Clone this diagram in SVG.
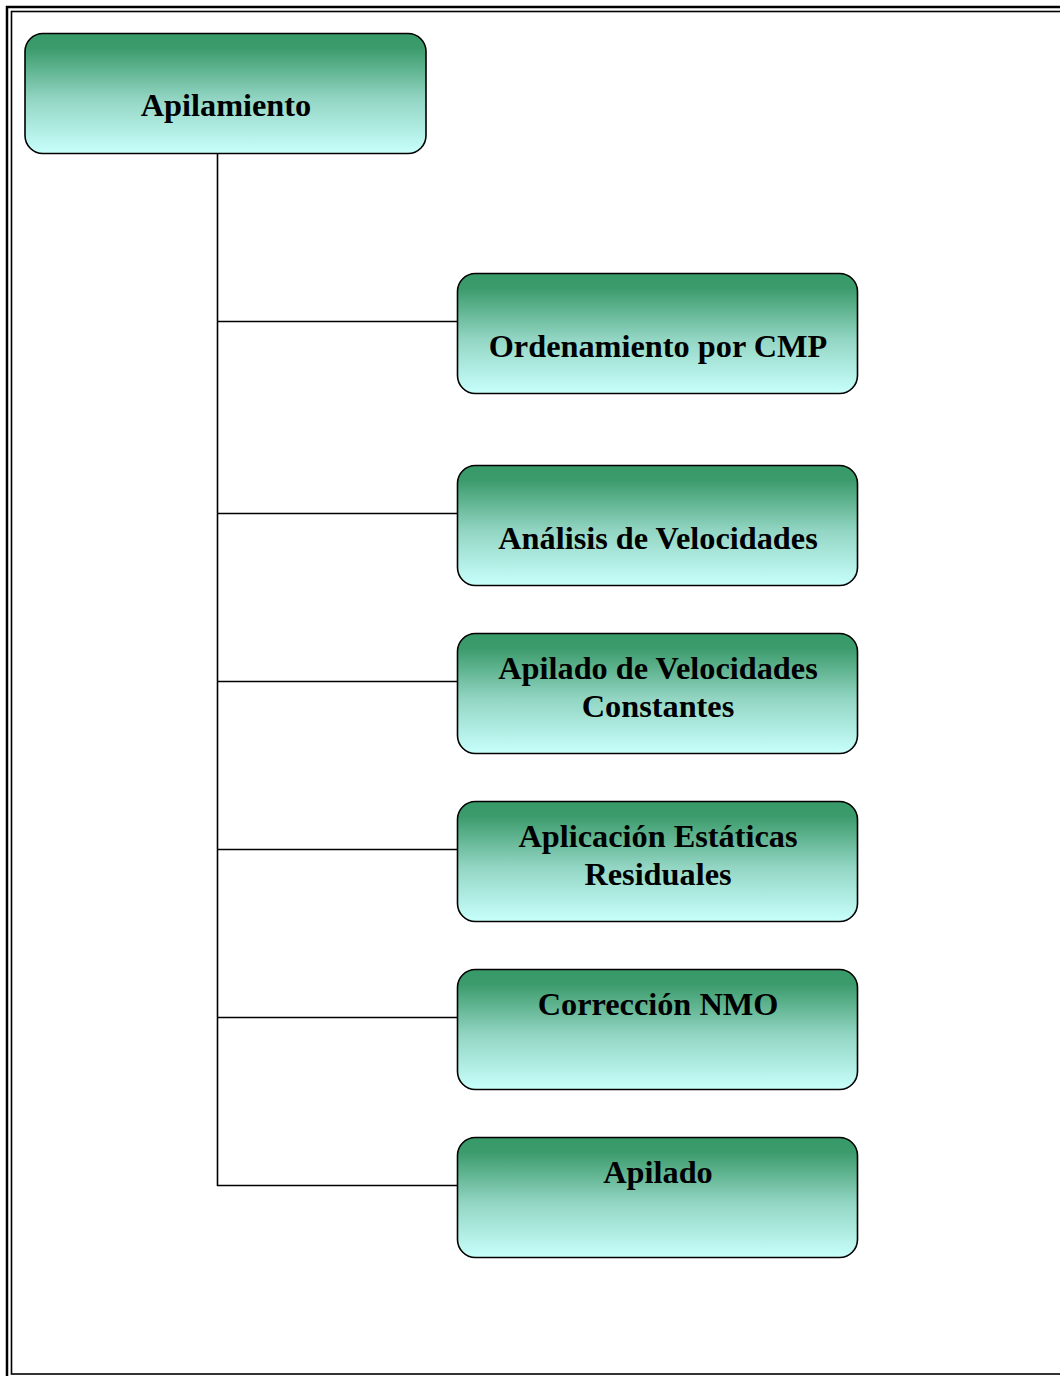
<svg xmlns="http://www.w3.org/2000/svg" width="1060" height="1376" viewBox="0 0 1060 1376">
<defs>
<linearGradient id="g" x1="0" y1="0" x2="0" y2="1">
<stop offset="0" stop-color="#389a68"/>
<stop offset="0.12" stop-color="#3b9b6b"/>
<stop offset="0.55" stop-color="#93d6c4"/>
<stop offset="1" stop-color="#c8fffc"/>
</linearGradient>
</defs>
<style>
.box{fill:url(#g);stroke:#000;stroke-width:1.6}
.t{font-family:"Liberation Serif","Times New Roman",serif;font-weight:bold;font-size:32.3px;text-anchor:middle;fill:#000}
.c{stroke:#000;stroke-width:1.6;fill:none}
</style>
<rect width="1060" height="1376" fill="#fff"/>
<rect x="7" y="7" width="1070" height="1390" fill="none" stroke="#000" stroke-width="2.5"/>
<rect x="11.5" y="11.5" width="1070" height="1362.5" fill="none" stroke="#000" stroke-width="1.6"/>
<g id="connectors">
<path class="c" d="M217.5 154V1186M217 321.5H458M217 513.5H458M217 681.5H458M217 849.5H458M217 1017.5H458M217 1185.5H458"/>
</g>
<g id="n0"><rect class="box" x="25" y="33.5" width="401" height="120" rx="18"/><text class="t" x="226" y="116">Apilamiento</text></g>
<g id="n1"><rect class="box" x="457.5" y="273.5" width="400" height="120" rx="18"/><text class="t" x="658" y="357">Ordenamiento por CMP</text></g>
<g id="n2"><rect class="box" x="457.5" y="465.5" width="400" height="120" rx="18"/><text class="t" x="658" y="549">Análisis de Velocidades</text></g>
<g id="n3"><rect class="box" x="457.5" y="633.5" width="400" height="120" rx="18"/><text class="t" x="658" y="679">Apilado de Velocidades</text><text class="t" x="658" y="717">Constantes</text></g>
<g id="n4"><rect class="box" x="457.5" y="801.5" width="400" height="120" rx="18"/><text class="t" x="658" y="847">Aplicación Estáticas</text><text class="t" x="658" y="885">Residuales</text></g>
<g id="n5"><rect class="box" x="457.5" y="969.5" width="400" height="120" rx="18"/><text class="t" x="658" y="1015">Corrección NMO</text></g>
<g id="n6"><rect class="box" x="457.5" y="1137.5" width="400" height="120" rx="18"/><text class="t" x="658" y="1183">Apilado</text></g>
</svg>
